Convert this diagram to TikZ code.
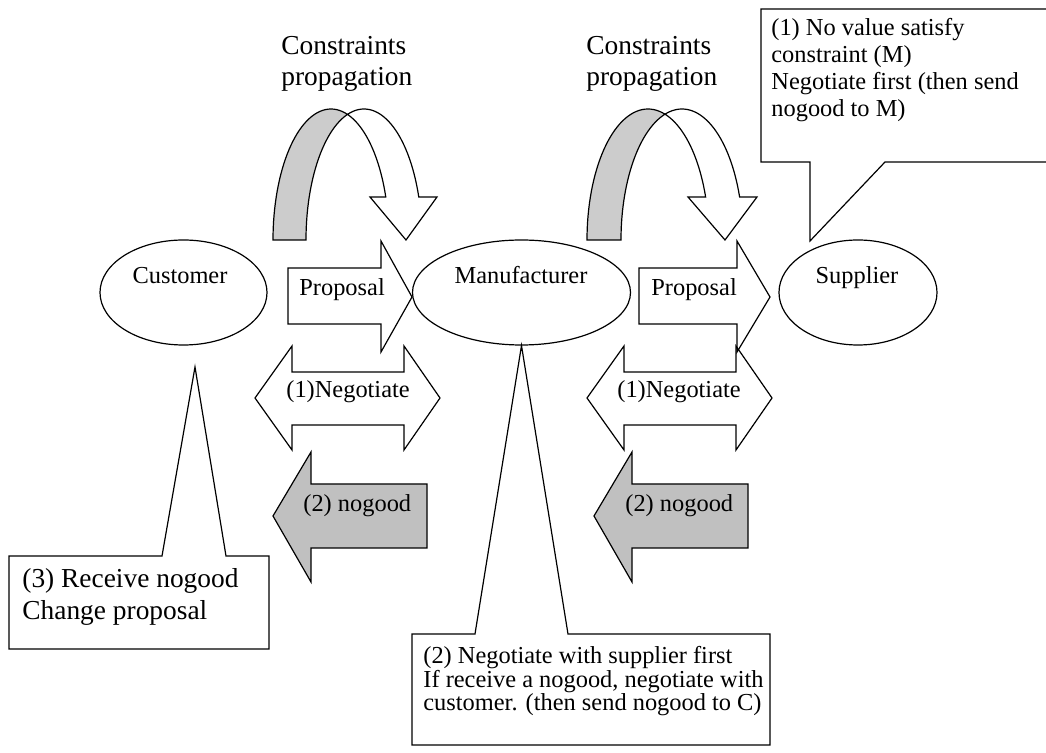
\documentclass[tikz,border=0pt]{standalone}
\usepackage{fontspec}
\setmainfont{Liberation Serif}
\usetikzlibrary{shapes.geometric}
\definecolor{bandgray}{RGB}{204,204,204}
\definecolor{nogoodgray}{RGB}{192,192,192}
\tikzset{
    party/.style={draw, ellipse, inner sep=0pt, minimum height=52.5pt, line width=0.6pt},
    blockarrow/.style={draw, line width=0.6pt, line join=miter},
    callbox/.style={draw, fill=white, line width=0.6pt, line join=miter},
    txt/.style={inner sep=0pt, anchor=base west, align=left, font=\fontsize{12.2}{14}\selectfont},
    bigtxt/.style={txt, font=\fontsize{13.7}{15.5}\selectfont}
}

\begin{document}
\begin{tikzpicture}[x=0.5pt, y=-0.5pt]
    \useasboundingbox (0,0) rectangle (1046,753);
    \clip (0,0) rectangle (1046,753);
    % Agents
    \node[party, minimum width=83.5pt] (cust) at (183.5,292.5) {};
    \node[party, minimum width=109pt] (manu) at (521.5,292.5) {};
    \node[party, minimum width=79pt] (supp) at (858,292.5) {};
    \node[txt, anchor=base] (cust-txt) at (180,284) {Customer};
    \node[txt, anchor=base] (manu-txt) at (521,284) {Manufacturer};
    \node[txt, anchor=base] (supp-txt) at (857,284) {Supplier};
    % Constraints propagation (base = last line)
    \node[bigtxt] (prop1) at (281,86) {Constraints\\propagation};
    \node[bigtxt] (prop2) at (586,86) {Constraints\\propagation};
    \foreach \cx/\rx/\w/\hl/\hr/\tip in {331/58/33/370/437/406, 648/61/34/688/757/725}{
        \pgfmathsetmacro\ta{acos(\w/2/\rx)}
        \pgfmathsetmacro\tb{360-\ta}
        \pgfmathsetmacro\tc{180+\ta}
        % back of the band
        \draw[blockarrow, fill=bandgray]
            plot[domain=180:\tb, samples=40] ({\cx+\rx*cos(\x)},{240+131*sin(\x)})
            -- plot[domain=\tc:180, samples=40] ({\cx+\w+\rx*cos(\x)},{240+131*sin(\x)}) -- cycle;
        % front of the band with head
        \draw[blockarrow, fill=white]
            plot[domain=\tc:340.84, samples=40] ({\cx+\w+\rx*cos(\x)},{240+131*sin(\x)})
            -- (\hr,197) -- (\tip,240) -- (\hl,197)
            -- plot[domain=340.84:\tb, samples=40] ({\cx+\rx*cos(\x)},{240+131*sin(\x)}) -- cycle;
    }
    % Proposal arrows
    \draw[blockarrow] (288,268) -- (381,268) -- (381,241) -- (412,297) -- (381,352) -- (381,324) -- (288,324) -- cycle;
    \draw[blockarrow] (639,268) -- (737,268) -- (737,241) -- (770,297) -- (737,352) -- (737,324) -- (639,324) -- cycle;
    \node[txt] (prop-l) at (299,296) {Proposal};
    \node[txt] (prop-r) at (651,296) {Proposal};
    % Negotiate arrows
    \draw[blockarrow] (255,398) -- (292,346) -- (292,372) -- (404,372) -- (404,346) -- (440,398)
        -- (404,450) -- (404,425) -- (292,425) -- (292,450) -- cycle;
    \draw[blockarrow] (587,398) -- (624,346) -- (624,372) -- (736,372) -- (736,346) -- (772,398)
        -- (736,450) -- (736,425) -- (624,425) -- (624,450) -- cycle;
    \node[txt] (neg-l) at (286,398) {(1)Negotiate};
    \node[txt] (neg-r) at (617,398) {(1)Negotiate};
    % Nogood arrows
    \draw[blockarrow, fill=nogoodgray] (273,516) -- (311,452) -- (311,484) -- (427,484) -- (427,548) -- (311,548) -- (311,582) -- cycle;
    \draw[blockarrow, fill=nogoodgray] (594,516) -- (632,452) -- (632,484) -- (748,484) -- (748,548) -- (632,548) -- (632,582) -- cycle;
    \node[txt] (ng-l) at (303,512) {(2) nogood};
    \node[txt] (ng-r) at (625,512) {(2) nogood};
    % Callouts
    \draw[callbox] (761,9) -- (1048,9) -- (1048,162) -- (885,162) -- (810,241) -- (810,162) -- (761,162) -- cycle;
    \node[txt, font=\fontsize{12.2}{13.65}\selectfont] (note-s) at (771,117)
        {(1) No value satisfy\\constraint (M)\\Negotiate first (then send\\nogood to M)};
    \draw[callbox] (9,556) -- (162,556) -- (195,367) -- (226,556) -- (269,556) -- (269,649) -- (9,649) -- cycle;
    \node[bigtxt, font=\fontsize{13.7}{16}\selectfont] (note-c) at (22,620) {(3) Receive nogood\\Change proposal};
    \draw[callbox] (412,634) -- (475,634) -- (manu.south) -- (568,634) -- (770,634) -- (770,745) -- (412,745) -- cycle;
    \node[txt, font=\fontsize{12.2}{11.8}\selectfont] (note-m) at (423,711)
        {(2) Negotiate with supplier first\\If receive a nogood, negotiate with\\customer. (then send nogood to C)};
\end{tikzpicture}
\end{document}
